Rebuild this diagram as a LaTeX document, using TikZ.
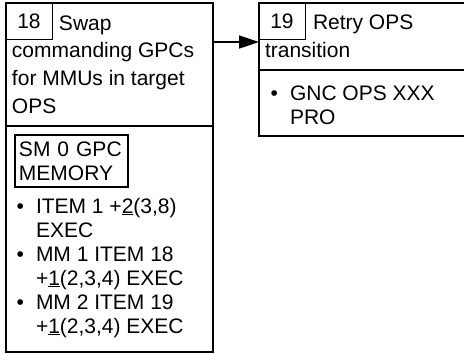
\documentclass[tikz,border=0pt]{standalone}
\usepackage{fontspec}
\setmainfont{Liberation Sans}
\usepackage{tikz}
\usetikzlibrary{arrows.meta, positioning, calc}
\tikzstyle{arrow} = [line width=1.5pt, -{Triangle[length=20pt, width=13pt]}]
\tikzstyle{card} = [rectangle, draw=black, line width=2pt, inner sep=0pt, outer sep=0pt, anchor=north west]
\tikzstyle{numbox} = [rectangle, draw=black, line width=1pt, inner sep=0pt, outer sep=0pt, minimum width=46pt, minimum height=36pt, anchor=north west, font=\fontsize{21}{24}\selectfont]
\tikzstyle{txt} = [inner sep=0pt, outer sep=0pt, anchor=base west, align=left, font=\fontsize{21}{27.7}\selectfont]
\tikzstyle{listtxt} = [txt, font=\fontsize{21}{24}\selectfont]
\tikzstyle{memobox} = [rectangle, draw=black, line width=2pt, outer sep=0pt, inner xsep=4pt, text width=105pt, minimum height=52pt, anchor=north west, align=left, font=\fontsize{21}{24}\selectfont]

\begin{document}
\begin{tikzpicture}[x=1pt, y=1pt]
\useasboundingbox (0,0) rectangle (464,-354);
\clip (0,0) rectangle (464,-354);

% step 18 (base of a multi-line node = its last line)
\node (head18) [card, minimum width=207pt, minimum height=123pt] at (6,-3) {};
\node (body18) [card, minimum width=207pt, minimum height=226pt] at (head18.south west) {};
\node (num18) [numbox] at (head18.north west) {18};
\node (swap) [txt, xshift=7pt, yshift=-27pt] at (num18.north east) {Swap};
\node (task18) [txt, xshift=6pt, yshift=-110pt] at (head18.north west) {commanding GPCs\\for MMUs in target\\OPS};

\node (memo) [memobox, xshift=9pt, yshift=-9pt] at (body18.north west) {SM 0 GPC\\MEMORY};

\node (item1) [listtxt, xshift=30pt, yshift=-111pt] at (body18.north west) {ITEM 1 +\underline{2}(3,8)\\EXEC};
\node (item2) [listtxt, yshift=-48pt] at (item1.base west) {MM 1 ITEM 18\\+\underline{1}(2,3,4) EXEC};
\node (item3) [listtxt, yshift=-48pt] at (item2.base west) {MM 2 ITEM 19\\+\underline{1}(2,3,4) EXEC};
\node (dot1) [listtxt, anchor=base east, xshift=-12pt, yshift=24pt] at (item1.base west) {\textbullet};
\node (dot2) [listtxt, anchor=base east, xshift=-12pt, yshift=24pt] at (item2.base west) {\textbullet};
\node (dot3) [listtxt, anchor=base east, xshift=-12pt, yshift=24pt] at (item3.base west) {\textbullet};

% step 19
\node (head19) [card, minimum width=209pt, minimum height=67pt, xshift=46pt] at (head18.north east) {};
\node (body19) [card, minimum width=209pt, minimum height=66pt] at (head19.south west) {};
\node (num19) [numbox] at (head19.north west) {19};
\node (retry) [txt, xshift=8pt, yshift=-26pt] at (num19.north east) {Retry OPS};
\node (task19) [txt, xshift=6pt, yshift=-54pt] at (head19.north west) {transition};

\node (item4) [listtxt, xshift=31pt, yshift=-54pt] at (body19.north west) {GNC OPS XXX\\PRO};
\node (dot4) [listtxt, anchor=base east, xshift=-12pt, yshift=24pt] at (item4.base west) {\textbullet};

\draw [arrow] ([yshift=-39pt]head18.north east) -- ([yshift=-39pt]head19.north west);

\end{tikzpicture}
\end{document}
